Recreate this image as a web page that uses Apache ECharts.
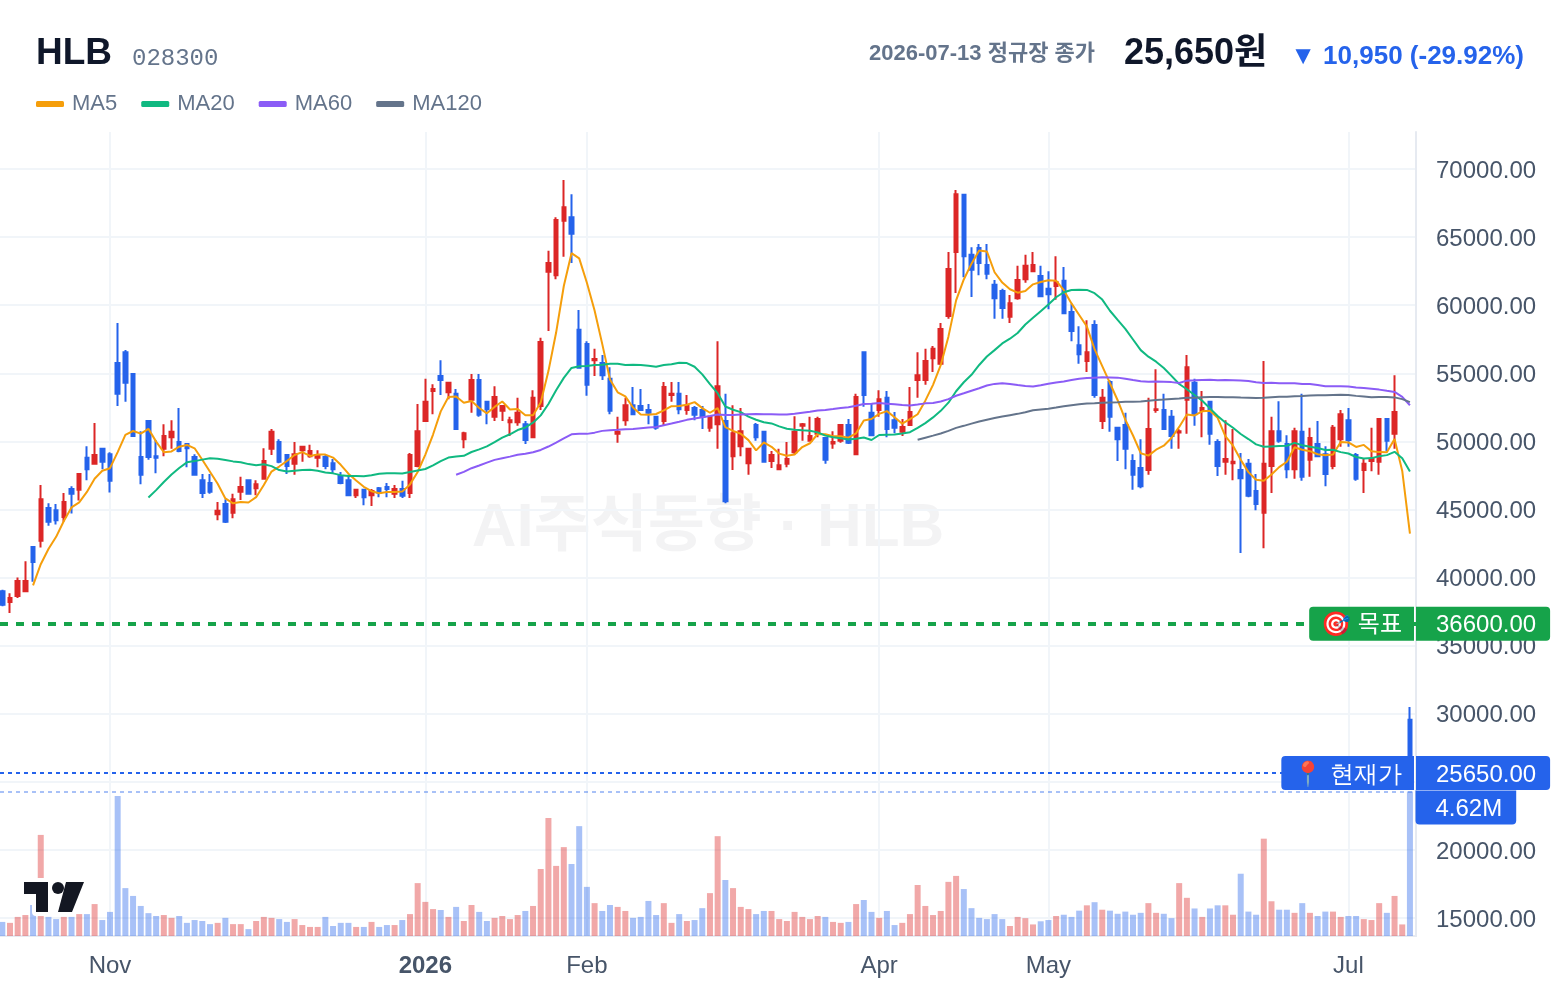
<!DOCTYPE html>
<html lang="ko">
<head>
<meta charset="utf-8">
<title>HLB 028300</title>
<script src="https://cdn.jsdelivr.net/npm/echarts@6/dist/echarts.min.js"></script>
<style>
  html, body { margin: 0; padding: 0; background: #fff; }
  #chart { width: 1560px; height: 992px; }
</style>
</head>
<body>
<div id="chart"></div>
<script>
// Daily OHLC, one entry per KRX session
const opens = [39000,38200,38650,39000,42250,42700,45100,44950,44450,46500,46450,48800,48350,49450,49050,55750,56550,54950,48850,51500,
48900,49450,50300,49950,49800,48850,47150,46950,44650,45400,44750,46300,47150,46550,47250,49450,49950,49000,48350,49350,
48900,48800,48850,48400,47450,47150,46050,46450,46050,46550,46650,46150,46500,46200,48200,51500,53700,54800,53600,53500,
50150,53050,54500,52900,51800,52250,51400,51400,51250,50300,52600,62450,62200,66200,66450,58200,57150,55950,55750,54600,
50550,51550,52650,52600,52300,51800,51500,53400,53500,52300,52450,52300,51000,51250,51500,48900,49650,48400,51200,50700,
48550,47950,48350,49200,51150,50050,50550,50250,49850,50050,51200,49050,56550,52100,52300,53200,51550,50700,51200,54500,
54500,56100,55700,59200,63900,68100,63700,64200,62950,61500,61050,59150,60500,61900,62500,62150,61200,61400,61800,59500,
57050,55900,58550,51500,54350,51000,51200,48550,48050,47900,52300,52300,51800,50650,53050,54300,52250,52900,49950,48500,
48400,47900,48350,46350,44750,48200,50750,49800,47950,50700,48650,49800,49050,48200,50150,51550,49000,47900,48550,48500,
51650,50550,36300,29550];
const closes = [38000,38500,39750,39750,41150,45750,44100,44200,45550,46150,47600,47950,49000,48500,47100,53500,54300,50400,47550,48850,
48800,50400,50700,49300,49500,47550,46200,46300,44900,44100,45750,46650,46150,46850,48550,50700,48500,48200,49050,49600,
49300,49000,48200,47950,46950,46050,46450,45900,46350,46200,46500,46500,46000,49000,50750,52900,53850,54500,54300,50900,
50600,54500,51950,52350,53250,52600,51550,52100,50100,53200,57300,63100,66250,67200,65250,55400,54150,56050,54850,52250,
50700,52650,52000,52300,52100,51000,54000,53500,52350,52600,51950,51800,51800,54050,45600,50600,50750,49450,50300,48500,
49000,48250,48700,50700,51250,50400,51650,48650,49950,51200,49900,53250,53400,50450,53100,50900,51000,51050,52150,54850,
55900,56800,58250,62650,68150,63600,62600,63100,62300,60500,59800,60150,61850,62900,62950,60650,60800,61700,59400,58100,
56400,56550,53400,53200,51800,50150,49450,47550,46700,50900,52350,50900,50400,50750,55450,52000,52450,50550,48200,48700,
48500,47300,46000,45400,48350,50750,50050,47950,50750,47400,50250,48900,47600,51000,52000,50100,47250,48350,48700,51650,
50050,52150,36600,25650];
const lows = [37900,37400,38500,38950,39700,42200,43800,43900,44100,44700,45650,47150,48350,47950,46250,52600,52900,50350,46850,48650,
47650,48900,49450,49200,48100,47550,45850,46150,44200,44000,44350,45700,46150,46050,47250,49000,48400,47600,47550,48500,
48800,48100,47950,47650,46850,46000,45850,45300,45250,45900,45900,45850,45850,45850,48100,51500,52000,53400,53100,50900,
49500,52100,51800,51250,51500,51500,50400,51150,49800,50300,52300,58100,61900,63550,63100,55400,53350,54800,54500,52000,
49900,51150,52000,52250,51250,50850,51200,52900,52000,51950,51550,50900,50700,49450,45450,47900,48900,47550,50050,48500,
48050,47950,48100,49050,50050,50050,50300,48350,49450,49900,49800,49050,52550,50400,51800,50300,50600,50400,51150,53200,
54150,55100,55600,59000,60900,62050,60600,62200,61900,59000,59000,58700,60400,61650,62450,60650,59700,60400,59400,57350,
55700,55100,53200,50900,50700,48550,47950,46450,46550,47550,52100,50850,49450,49450,50550,51150,50300,49750,47450,47550,
47150,41800,45900,44950,42150,46200,49900,47300,47250,47100,47400,48900,46700,47950,49600,49600,47100,46200,47800,47550,
49300,49450,36100,25650];
const highs = [39100,38850,40000,41200,42250,46800,45450,45400,46200,46700,47650,49650,51350,49500,49200,58700,56700,54950,50750,51500,
50100,51250,51550,52450,49800,49050,47600,47600,45550,45750,46150,47400,47150,47150,49500,50900,50150,49050,49950,49650,
49750,49350,49000,48700,47750,47550,46500,46500,46500,46650,46950,46800,47100,49150,52750,54600,54200,55950,54350,53850,
50700,54950,54950,52950,54050,52650,51800,53200,51500,53750,57600,64000,66450,69200,68150,59650,57350,56800,56350,55450,
51800,53200,54000,53850,52750,51850,54350,54350,54350,53400,52600,52600,51850,57350,53500,52650,52450,49500,51350,50750,
49300,49450,49950,51850,51350,51800,51800,50250,50750,51200,51650,53500,56550,52750,53750,53700,52150,51650,54000,56550,
56800,57000,58700,63900,68450,68150,64250,64500,64500,61850,61200,60750,62900,63700,63900,62900,62500,63600,62800,60100,
58450,58900,58900,53850,54500,51050,52100,49050,50150,53200,55300,53500,52300,50900,56350,54600,53700,52950,50150,51550,
50900,49150,48700,47600,55900,51800,52950,50450,51000,53500,51000,51500,49650,51200,52300,52450,49150,48700,51000,51650,
51650,54850,36900,30500];
// Traded volume, in millions of shares
const volumes = [0.45,0.42,0.61,0.67,0.99,3.23,0.61,0.54,0.61,0.61,0.70,0.70,1.02,0.51,0.77,4.47,1.53,1.28,0.96,0.73,
0.64,0.67,0.58,0.64,0.42,0.51,0.48,0.38,0.42,0.58,0.38,0.38,0.22,0.48,0.61,0.58,0.54,0.45,0.54,0.35,
0.29,0.29,0.61,0.32,0.42,0.42,0.29,0.29,0.45,0.29,0.35,0.35,0.51,0.70,1.69,1.09,0.86,0.83,0.61,0.93,
0.48,0.99,0.77,0.48,0.58,0.64,0.54,0.67,0.80,0.96,2.14,3.77,2.24,2.84,2.30,3.51,1.57,1.05,0.80,0.99,
0.93,0.80,0.58,0.61,1.12,0.67,1.05,0.42,0.70,0.48,0.51,0.89,1.37,3.19,1.79,1.53,0.93,0.86,0.70,0.80,
0.80,0.54,0.48,0.77,0.61,0.54,0.64,0.61,0.45,0.42,0.45,1.02,1.15,0.77,0.58,0.80,0.35,0.42,0.70,1.63,
0.96,0.67,0.80,1.73,1.92,1.50,0.89,0.58,0.54,0.70,0.54,0.32,0.61,0.57,0.37,0.47,0.51,0.64,0.68,0.61,
0.81,0.98,1.08,0.84,0.81,0.71,0.78,0.68,0.74,1.05,0.74,0.71,0.57,1.69,1.22,0.88,0.61,0.88,0.98,0.98,
0.68,1.99,0.78,0.68,3.11,1.11,0.84,0.84,0.74,1.05,0.74,0.64,0.78,0.78,0.61,0.64,0.64,0.54,0.51,1.05,
0.74,1.28,0.37,4.62];

// Moving averages; each one opens once it has a full window behind it
const ma5 = [null,null,null,null,39430,40980,42100,42990,44150,45150,45520,46290,47250,47840,48030,49210,50480,50760,50570,50920,
49980,49200,49260,49610,49740,49490,48650,47770,46890,45810,45450,45540,45510,45900,46790,47780,48150,48560,49000,49210,
48930,49030,49030,48810,48280,47630,47120,46660,46340,46190,46280,46290,46310,46840,47750,49030,50500,52200,53260,53290,
52830,52960,52450,52060,52530,52930,52340,52370,51920,51910,52850,55160,57990,61410,63820,63440,61650,59610,57140,54540,
53600,53300,52490,51980,51950,52010,52280,52580,52590,52690,52880,52440,52100,52440,51040,50770,50560,50090,49340,49920,
49600,49100,48950,49030,49580,49860,50540,50530,50380,50370,50270,50590,51540,51640,52020,52220,51770,51300,51640,51990,
52990,54150,55590,57690,60350,61890,63050,64020,63950,62420,61660,61170,60920,61040,61530,61700,61830,61800,61100,60130,
59280,58430,56770,55530,54270,53020,51600,50430,49130,48950,49390,49680,50250,51060,51970,51900,52210,52240,51730,50380,
49680,48650,47740,47180,47110,47560,48110,48500,49570,49380,49280,49050,48980,49030,49950,49920,49590,49740,49280,49210,
49200,50180,47830,43220];
const ma20 = [null,null,null,null,null,null,null,null,null,null,null,null,null,null,null,null,null,null,null,45880,
46420,47020,47560,48040,48460,48550,48660,48760,48730,48630,48530,48470,48330,48240,48320,48180,47890,47780,47850,47890,
47910,47840,47720,47650,47520,47450,47460,47440,47510,47620,47660,47650,47640,47750,47860,47970,48240,48550,48810,48880,
48940,49220,49410,49630,49940,50270,50520,50830,51020,51370,51910,52740,53750,54660,55390,55510,55530,55610,55630,55700,
55700,55610,55620,55610,55560,55480,55600,55670,55780,55750,55480,54920,54200,53540,52560,52320,52150,51820,51590,51400,
51320,51100,50930,50850,50810,50780,50660,50420,50300,50230,50130,50200,50280,50100,50470,50490,50500,50580,50670,50990,
51340,51760,52240,52840,53680,54340,54890,55610,56230,56700,57190,57540,57960,58580,59070,59560,60050,60580,60950,61110,
61130,61120,60880,60410,59590,58920,58260,57480,56700,56220,55850,55390,54810,54210,53830,53400,52980,52420,51860,51390,
51000,50540,50170,49780,49600,49630,49660,49680,49890,49710,49610,49510,49370,49380,49210,49110,48850,48740,48770,48910,
48990,49230,48760,47780];
const ma60 = Array(59).fill(null).concat([47550,
47760,48030,48230,48440,48640,48760,48880,49010,49090,49200,49370,49620,49910,50220,50520,50550,50550,50640,50770,50820,
50850,50890,50910,50960,51010,51060,51190,51310,51440,51580,51680,51770,51860,51980,51930,51930,51970,51990,52010,51990,
51990,51980,51980,52030,52100,52170,52260,52310,52370,52450,52510,52620,52740,52770,52810,52770,52720,52670,52630,52700,
52790,52820,52930,53100,53350,53530,53720,53900,54100,54220,54270,54220,54140,54070,54030,54120,54230,54330,54400,54500,
54590,54660,54680,54700,54690,54680,54600,54500,54410,54380,54390,54370,54350,54290,54460,54480,54510,54530,54490,54500,
54490,54470,54430,54340,54290,54300,54270,54260,54270,54210,54210,54140,54050,54050,54040,54020,53960,53920,53860,53800,
53710,53630,53270,52650]);
const ma120 = Array(119).fill(null).concat([50120,
50270,50420,50580,50770,50990,51140,51300,51460,51590,51710,51820,51920,52020,52140,52280,52340,52390,52480,52580,52660,
52720,52780,52800,52830,52850,52870,52900,52910,52920,52980,53040,53070,53110,53140,53200,53210,53240,53260,53250,53240,
53240,53220,53210,53180,53200,53240,53270,53280,53320,53330,53360,53380,53390,53410,53420,53400,53340,53290,53240,53250,
53250,53230,53100,52880]);

// Price axis ticks and the reference levels drawn across the chart
const priceTicks = [15000,20000,25000,30000,35000,40000,45000,50000,55000,60000,65000,70000];
const targetPrice = 36600;
const currentPrice = 25650;
const currentVolume = 4.62;

// Sessions run from 2025-10-14 to 2026-07-13 on weekdays, minus market closures
const firstSession = '2025-10-14';
const lastSession = '2026-07-13';
const closures = ['2025-12-25','2025-12-31','2026-01-01','2026-02-16','2026-02-17','2026-02-18','2026-03-02',
  '2026-05-01','2026-05-05','2026-05-25','2026-06-03'];
const tickLabels = [['2025-11-03','Nov'],['2026-01-02','2026'],['2026-02-02','Feb'],['2026-04-01','Apr'],['2026-05-04','May'],['2026-07-01','Jul']];

function listSessions() {
  const out = [];
  const end = Date.parse(lastSession + 'T00:00:00Z');
  for (let t = Date.parse(firstSession + 'T00:00:00Z'); t <= end; t += 86400000) {
    const d = new Date(t);
    const iso = d.toISOString().slice(0, 10);
    const dow = d.getUTCDay();
    if (dow !== 0 && dow !== 6 && !closures.includes(iso)) out.push(iso);
  }
  return out;
}
const sessions = listSessions();
const tickMap = new Map(tickLabels);

const UP = '#dc2626', DOWN = '#2563eb', GREEN = '#16a34a';
const GRIDLINE = '#f1f5f9', EDGE = '#e6eaf1';
const FONT = '"Liberation Sans","Noto Sans CJK SC",Arial,sans-serif';
const FONT_TC = '"Liberation Sans","Noto Sans CJK TC",Arial,sans-serif';
const FONT_PLAIN = '"Liberation Sans",sans-serif';

// Shared vertical span of both grids, and the price and volume scales
const plotTop = 132, plotBottom = 56;
const priceMin = 13678, priceMax = 72717;
const volumeMax = 25.69;
// One band per session, 7.692px wide
const bandLeft = -1.55, bandSpan = 1415.33, frameWidth = 1416;

const headerText = (x, y, text, font, fill, align) => ({
  type: 'text', z: 50, silent: true,
  style: { x, y, text, font: font + ' ' + FONT, fill, align: align || 'left', verticalAlign: 'middle' }
});
const tagText = family => ({ t: { color: '#fff', fontSize: 24, fontFamily: family, lineHeight: 24 } });
// Axis tag holding a price, pinned just right of the plot
const priceTag = color => ({
  position: 'end', distance: 0, formatter: p => '{t|' + p.value.toFixed(2) + '}', rich: tagText(FONT),
  backgroundColor: color, padding: [7, 14, 3, 20], borderRadius: [0, 4, 4, 0]
});
// Name tag sitting against the plot's right edge
const nameTag = (text, color, family) => ({
  position: 'insideEnd', distance: 2, formatter: '{t|' + text + '}', rich: tagText(family),
  backgroundColor: color, padding: [7, 12, 3, 12], borderRadius: [4, 0, 0, 4]
});
const hiddenLine = { color: 'rgba(0,0,0,0)', width: 1, type: 'solid' };

const option = {
  animation: false,
  backgroundColor: '#ffffff',
  textStyle: { fontFamily: FONT },
  legend: {
    left: 36, top: 93, padding: 0,
    itemWidth: 28, itemHeight: 6, itemGap: 24,
    icon: 'roundRect',
    data: ['MA5', 'MA20', 'MA60', 'MA120'],
    textStyle: { fontSize: 22, color: '#64748b', fontFamily: FONT, padding: [0, 0, 0, 3] },
    selectedMode: false
  },
  grid: [
    { left: 0, width: frameWidth, top: plotTop, bottom: plotBottom, outerBoundsMode: 'none' },
    { left: bandLeft, width: bandSpan, top: plotTop, bottom: plotBottom, outerBoundsMode: 'none' }
  ],
  xAxis: [
    { type: 'value', gridIndex: 0, min: 0, max: 1,
      axisLabel: { show: false }, axisTick: { show: false }, splitLine: { show: false },
      axisLine: { show: true, onZero: false, lineStyle: { color: EDGE, width: 2 } } },
    { type: 'category', gridIndex: 1, data: sessions, boundaryGap: true,
      axisLine: { show: false }, axisTick: { show: false }, splitLine: { show: false },
      axisLabel: {
        margin: 18, fontSize: 24, color: '#475569', fontFamily: FONT,
        interval: (i, value) => tickMap.has(value),
        formatter: value => {
          const t = tickMap.get(value) || '';
          return /^\d+$/.test(t) ? '{year|' + t + '}' : t;
        },
        rich: { year: { fontSize: 24, fontWeight: 'bold', color: '#475569', fontFamily: FONT } }
      } }
  ],
  yAxis: [
    { type: 'value', gridIndex: 0, position: 'right', min: priceMin, max: priceMax,
      axisLine: { show: true, onZero: false, lineStyle: { color: EDGE, width: 2 } },
      axisTick: { show: false, customValues: priceTicks },
      axisLabel: { margin: 20, customValues: priceTicks, padding: [4, 0, 0, 0],
        formatter: v => '{p|' + v.toFixed(2) + '}',
        rich: { p: { fontSize: 24, color: '#475569', fontFamily: FONT } } },
      splitLine: { show: true, lineStyle: { color: GRIDLINE, width: 2 } } },
    { type: 'value', gridIndex: 0, min: 0, max: volumeMax, show: false, splitLine: { show: false } },
    { type: 'value', gridIndex: 1, min: priceMin, max: priceMax, show: false, splitLine: { show: false } },
    { type: 'value', gridIndex: 1, min: 0, max: volumeMax, show: false, splitLine: { show: false } }
  ],
  series: [
    // Month separators sit under the marks
    { type: 'line', xAxisIndex: 1, yAxisIndex: 2, z: 1, silent: true, symbol: 'none',
      data: sessions.map(() => null),
      markLine: { z: 0, silent: true, symbol: 'none', animation: false, label: { show: false },
        lineStyle: { color: GRIDLINE, width: 2, type: 'solid' },
        data: tickLabels.map(t => ({ xAxis: t[0] })) } },
    { type: 'bar', name: 'Volume', xAxisIndex: 1, yAxisIndex: 3, z: 2, barWidth: 6, silent: true,
      data: volumes.map((v, i) => ({ value: v, itemStyle: { color: closes[i] >= opens[i] ? 'rgba(220,38,38,0.4)' : 'rgba(37,99,235,0.4)' } })) },
    { type: 'candlestick', name: 'HLB', xAxisIndex: 1, yAxisIndex: 2, z: 3, barWidth: 4, silent: true,
      itemStyle: { color: UP, color0: DOWN, borderColor: UP, borderColor0: DOWN, borderWidth: 2 },
      data: opens.map((o, i) => [o, closes[i], lows[i], highs[i]]) },
    { type: 'line', name: 'MA5', xAxisIndex: 1, yAxisIndex: 2, z: 4, symbol: 'none', silent: true, data: ma5,
      itemStyle: { color: '#f59e0b' }, lineStyle: { color: '#f59e0b', width: 2 } },
    { type: 'line', name: 'MA20', xAxisIndex: 1, yAxisIndex: 2, z: 4, symbol: 'none', silent: true, data: ma20,
      itemStyle: { color: '#10b981' }, lineStyle: { color: '#10b981', width: 2 } },
    { type: 'line', name: 'MA60', xAxisIndex: 1, yAxisIndex: 2, z: 4, symbol: 'none', silent: true, data: ma60,
      itemStyle: { color: '#8b5cf6' }, lineStyle: { color: '#8b5cf6', width: 2 } },
    { type: 'line', name: 'MA120', xAxisIndex: 1, yAxisIndex: 2, z: 4, symbol: 'none', silent: true, data: ma120,
      itemStyle: { color: '#64748b' }, lineStyle: { color: '#64748b', width: 2 } },
    // Target and last-price levels with their tags on the axis
    { type: 'line', xAxisIndex: 0, yAxisIndex: 0, z: 20, silent: true, symbol: 'none',
      data: [[0, currentPrice]], lineStyle: { opacity: 0 },
      markLine: {
        z: 25, silent: true, symbol: 'none', animation: false,
        data: [
          { yAxis: targetPrice, lineStyle: { color: GREEN, width: 4, type: [8, 8] }, label: priceTag(GREEN) },
          { yAxis: targetPrice, lineStyle: hiddenLine, label: nameTag('🎯 목표', GREEN, FONT_TC) },
          { yAxis: currentPrice, lineStyle: { color: DOWN, width: 2, type: [4, 4] }, label: priceTag(DOWN) },
          { yAxis: currentPrice, lineStyle: hiddenLine, label: nameTag('📍 현재가', DOWN, FONT_PLAIN) }
        ] } },
    // Latest volume level and its tag
    { type: 'line', xAxisIndex: 0, yAxisIndex: 1, z: 19, silent: true, symbol: 'none',
      data: [[0, currentVolume]], lineStyle: { opacity: 0 },
      markLine: {
        z: 19, silent: true, symbol: 'none', animation: false, label: { show: false },
        lineStyle: { color: 'rgba(37,99,235,0.4)', width: 2, type: [4, 4] },
        data: [{ yAxis: currentVolume }] },
      markPoint: {
        z: 24, silent: true, animation: false, symbol: 'rect', symbolSize: 1, itemStyle: { color: 'rgba(0,0,0,0)' },
        label: { position: 'right', distance: 0, offset: [-1, 16], rich: tagText(FONT),
          backgroundColor: DOWN, padding: [7, 14, 3, 20], borderRadius: [0, 0, 4, 4],
          formatter: () => '{t|' + currentVolume.toFixed(2) + 'M}' },
        data: [{ coord: [1, currentVolume] }] } }
  ],
  graphic: [
    headerText(36, 54, 'HLB', 'bold 37px', '#0f172a'),
    headerText(132, 59, '028300', '24px "Liberation Mono",', '#64748b'),
    headerText(869, 54, '2026-07-13 정규장 종가', 'bold 22px', '#64748b'),
    headerText(1124, 54, '25,650원', 'bold 36px', '#0f172a'),
    headerText(1524, 57, '▼ 10,950 (-29.92%)', 'bold 26px', '#2563eb', 'right'),
    // Faint watermark behind the candles
    { type: 'text', z: 0, silent: true,
      style: { x: 708, y: 529, text: 'AI주식동향 · HLB', font: 'bold 62px ' + FONT, fill: 'rgba(15,23,42,0.05)', align: 'center', verticalAlign: 'middle' } },
    // TradingView mark with its white halo
    { type: 'group', z: 30, silent: true, children: ['halo', 'fill'].map(kind => ({
        type: 'group', children: [
          { type: 'polygon', z: kind === 'halo' ? 30 : 31,
            shape: { points: [[24,882],[48,882],[48,912],[36,912],[36,894],[24,894]] },
            style: { fill: '#131722', stroke: kind === 'halo' ? '#fff' : null, lineWidth: kind === 'halo' ? 8 : 0, lineJoin: 'round' } },
          { type: 'circle', z: kind === 'halo' ? 30 : 31,
            shape: { cx: 58, cy: 888, r: 6 },
            style: { fill: '#131722', stroke: kind === 'halo' ? '#fff' : null, lineWidth: kind === 'halo' ? 8 : 0 } },
          { type: 'polygon', z: kind === 'halo' ? 30 : 31,
            shape: { points: [[66,882],[84,882],[72,912],[58,912]] },
            style: { fill: '#131722', stroke: kind === 'halo' ? '#fff' : null, lineWidth: kind === 'halo' ? 8 : 0, lineJoin: 'round' } }
        ] })) }
  ]
};

const chart = echarts.init(document.getElementById('chart'), null, { renderer: 'canvas' });
chart.setOption(option);
</script>
</body>
</html>
